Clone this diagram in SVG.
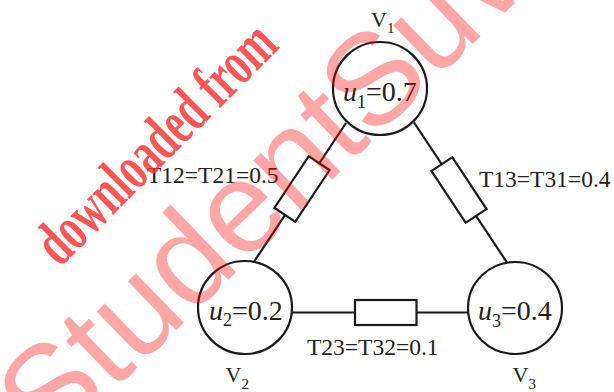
<svg xmlns="http://www.w3.org/2000/svg" width="614" height="392" viewBox="0 0 614 392">
<style>
.node{fill:none;stroke:#1a1a1a;stroke-width:2.2}
.wire{stroke:#1a1a1a;stroke-width:2.2;fill:none}
.res{fill:#fff;stroke:#1a1a1a;stroke-width:2.2}
.lbl{font-family:"Liberation Serif","Times New Roman",serif;fill:#222}
.val{font-size:28px}
.tl{font-size:23.5px}
.vl{font-size:22px}
.it{font-style:italic}
.wm1{font-family:"Liberation Serif","Times New Roman",serif;font-weight:bold;fill:#ff2a2a;fill-opacity:0.8}
.wm2{font-family:"Liberation Sans",Arial,sans-serif;fill:#ff0000;fill-opacity:0.35}
</style>
<rect width="614" height="392" fill="#fff"/>
<g id="connectors">
  <g id="e12">
    <line class="wire" x1="346" y1="123" x2="253.5" y2="262.5"/>
    <rect class="res" x="-31" y="-12.5" width="62" height="25" transform="translate(302,189) rotate(123.6)"/>
  </g>
  <g id="e13">
    <line class="wire" x1="414" y1="122.5" x2="507" y2="262.5"/>
    <rect class="res" x="-31" y="-12.5" width="62" height="25" transform="translate(459,190) rotate(56.5)"/>
  </g>
  <g id="e23">
    <line class="wire" x1="292" y1="312.5" x2="468" y2="312.5"/>
    <rect class="res" x="355" y="300" width="61.5" height="25"/>
  </g>
</g>
<g id="v1">
  <ellipse class="node" cx="380" cy="88.5" rx="47" ry="46.5"/>
  <text class="lbl val" x="343" y="101"><tspan class="it">u</tspan><tspan font-size="18" dy="6.5">1</tspan><tspan dy="-6.5">=0.7</tspan></text>
  <text class="lbl vl" x="371" y="26.5">V<tspan font-size="15" dy="6.5">1</tspan></text>
</g>
<g id="v2">
  <ellipse class="node" cx="245" cy="307.5" rx="47" ry="46.5"/>
  <text class="lbl val" x="209" y="319.5"><tspan class="it">u</tspan><tspan font-size="18" dy="6.5">2</tspan><tspan dy="-6.5">=0.2</tspan></text>
  <text class="lbl vl" x="225.5" y="382">V<tspan font-size="15" dy="7">2</tspan></text>
</g>
<g id="v3">
  <ellipse class="node" cx="515" cy="308" rx="47" ry="46"/>
  <text class="lbl val" x="478" y="320"><tspan class="it">u</tspan><tspan font-size="18" dy="6.5">3</tspan><tspan dy="-6.5">=0.4</tspan></text>
  <text class="lbl vl" x="512.5" y="382">V<tspan font-size="15" dy="7">3</tspan></text>
</g>
<g id="edge-labels">
  <text class="lbl tl" x="147" y="182.5">T12=T21=0.5</text>
  <text class="lbl tl" x="479" y="187">T13=T31=0.4</text>
  <text class="lbl tl" x="307" y="355">T23=T32=0.1</text>
</g>
<g id="watermark">
  <text class="wm1" x="60" y="268" font-size="64" textLength="312" lengthAdjust="spacingAndGlyphs" transform="rotate(-45 60 268)">downloaded from</text>
  <text class="wm2" x="50" y="452" font-size="130" transform="rotate(-44 50 452)">StudentSuvidha</text>
</g>
</svg>
